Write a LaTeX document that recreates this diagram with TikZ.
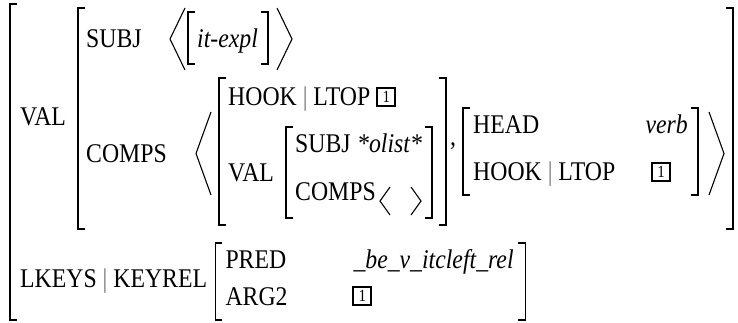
\documentclass[tikz,border=0pt]{standalone}
\usepackage{fontspec}
\setmainfont{Liberation Serif}[FakeStretch=0.88]
\usepackage{tikz}
\usetikzlibrary{positioning}

\tikzset{
  rasgo/.style={anchor=base west, inner sep=0pt, font=\fontsize{27}{32}\selectfont},
  valor/.style={rasgo, font=\fontsize{27}{32}\selectfont\itshape},
  etiq/.style={draw, line width=2pt, inner sep=0pt, minimum size=18pt, font=\fontsize{17}{17}\selectfont},
  corchete/.style={line width=1.1pt},
}

% Corchetes y ángulos: x, y arriba, y abajo
\newcommand{\corchI}[3]{\draw[corchete] (#1+\pata,#2) -- (#1,#2) -- (#1,#3) -- (#1+\pata,#3);}
\newcommand{\corchD}[3]{\draw[corchete] (#1-\pata,#2) -- (#1,#2) -- (#1,#3) -- (#1-\pata,#3);}
\newcommand{\anguloI}[4]{\draw[corchete] (#2,#3) -- (#1,{(#3+#4)/2}) -- (#2,#4);}
\newcommand{\barra}{\textcolor{black!55}{|}}

\begin{document}
\begin{tikzpicture}[x=1pt, y=-1pt]
% Parámetros
\def\pata{7}
\useasboundingbox (0,0) rectangle (738,322);

% Matriz exterior
\corchI{10}{4}{320}
\node[rasgo] (val) at (20,125) {VAL};

% Matriz de VAL
\corchI{78}{8}{229}
\corchD{733}{8}{229}
\node[rasgo] (subj) at (86,47) {SUBJ};
\node[rasgo] (comps) at (86,162) {COMPS};

% Lista de SUBJ
\anguloI{170}{185}{8}{70}
\corchI{188}{12}{64}
\node[valor] (expl) at (197,47) {it-expl};
\corchD{268}{12}{64}
\anguloI{292}{277}{8}{70}

% Lista de COMPS
\anguloI{196}{211}{112}{195}

% Primer elemento
\corchI{219}{78}{225}
\node[rasgo] (hook) at (228,105) {HOOK \barra{} LTOP};
\node[etiq, right=6pt of hook.base east, anchor=south west, yshift=-2pt] (uno) {1};
\node[rasgo] (valb) at (228,181) {VAL};
\corchI{286}{127}{218}
\node[rasgo] (subjb) at (295,152) {SUBJ};
\node[valor] (olist) at (357,152) {*olist*};
\node[rasgo] (compsb) at (295,200) {COMPS};
\anguloI{380}{390}{187}{215}
\anguloI{421}{411}{187}{215}
\corchD{432}{127}{218}
\corchD{446}{78}{225}
\node[rasgo] (coma) at (450,145) {,};

% Segundo elemento
\corchI{463}{108}{195}
\node[rasgo] (head) at (473,133) {HEAD};
\node[valor, anchor=base east] (verb) at (688,133) {verb};
\node[rasgo] (hookb) at (473,180) {HOOK \barra{} LTOP};
\node[etiq] (unob) at (661,172) {1};
\corchD{698}{108}{195}
\anguloI{724}{709}{112}{195}

% LKEYS
\node[rasgo] (lkeys) at (20,287) {LKEYS \barra{} KEYREL};
\coordinate (cb) at ([xshift=8pt]lkeys.base east);
\begin{scope}[shift={(cb)}]
\corchI{0}{-44}{33}
\node[rasgo] (pred) at (10,-19) {PRED};
\node[valor] (rel) at (138,-19) {\_be\_v\_itcleft\_rel};
\node[rasgo] (arg) at (10,18) {ARG2};
\node[etiq] (unoc) at (147,9) {1};
\corchD{310}{-44}{33}
\end{scope}
\end{tikzpicture}
\end{document}
